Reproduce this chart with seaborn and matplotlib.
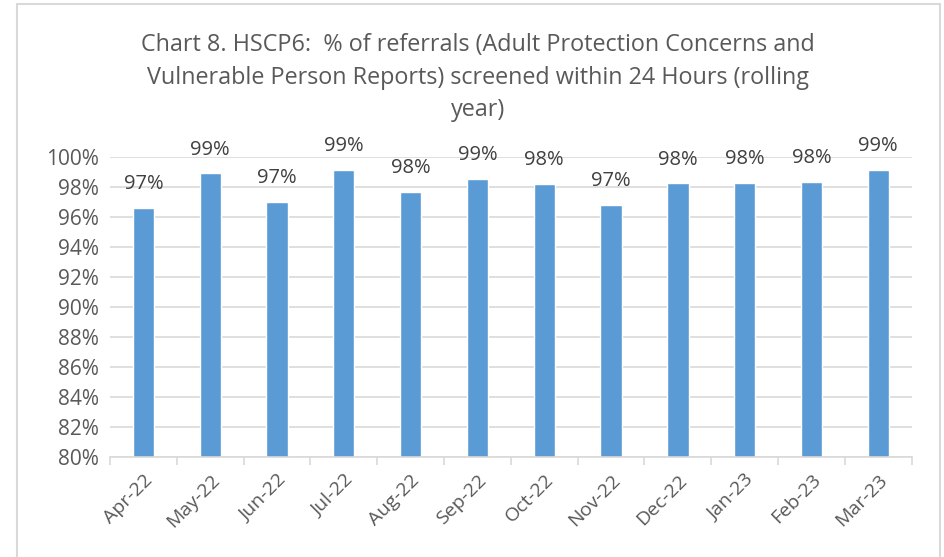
import matplotlib
matplotlib.use("Agg")
import matplotlib.pyplot as plt
import seaborn as sns
import pandas as pd
import numpy as np
from matplotlib.ticker import PercentFormatter, FixedLocator
from matplotlib.patches import Rectangle

# values
months = ["Apr-22", "May-22", "Jun-22", "Jul-22", "Aug-22", "Sep-22",
          "Oct-22", "Nov-22", "Dec-22", "Jan-23", "Feb-23", "Mar-23"]
pct_screened = [0.9658, 0.9891, 0.9702, 0.9913, 0.9769, 0.9853,
                0.9818, 0.9682, 0.9824, 0.9827, 0.9833, 0.9915]

title = ("Chart 8. HSCP6:  % of referrals (Adult Protection Concerns and\n"
         "Vulnerable Person Reports) screened within 24 Hours (rolling\n"
         "year)")

sns.set_theme(style="white")
plt.rcParams["font.family"] = ["Open Sans", "DejaVu Sans"]

df = pd.DataFrame({"month": months, "pct": pct_screened})

fig = plt.figure(figsize=(9.45, 5.57), dpi=100)
ax = fig.add_axes([0.1164, 0.1795, 0.8483, 0.5385])

sns.barplot(data=df, x="month", y="pct", color="#5B9BD5", saturation=1,
            width=0.32, ax=ax)

ax.set_ylim(0.80, 1.00)
ax.set_xlim(-0.5, len(months) - 0.5)
ax.set_yticks(np.arange(0.80, 1.001, 0.02))
ax.yaxis.set_major_formatter(PercentFormatter(1, decimals=0))
ax.grid(axis="y", color="#D9D9D9", linewidth=1.2)
ax.set_axisbelow(True)

for s in ["top", "right", "left"]:
    ax.spines[s].set_visible(False)
ax.spines["bottom"].set_color("#D9D9D9")
ax.spines["bottom"].set_linewidth(1.2)

ax.set_xlabel("")
ax.set_ylabel("")
ax.tick_params(axis="y", length=0, labelsize=15, labelcolor="#595959", pad=8)
ax.tick_params(axis="x", which="major", length=0, labelsize=14,
               labelcolor="#595959", pad=10)
plt.setp(ax.get_xticklabels(), rotation=45, ha="right",
         rotation_mode="anchor")
ax.xaxis.set_minor_locator(FixedLocator(np.arange(-0.5, len(months), 1)))
ax.tick_params(axis="x", which="minor", length=6, width=1.2,
               color="#D9D9D9", bottom=True)

ax.bar_label(ax.containers[0],
             labels=[f"{v * 100:.0f}%" for v in pct_screened],
             padding=10, fontsize=14.5, color="#404040")

fig.text(0.506, 0.94, title, ha="center", va="top", fontsize=16.8,
         color="#595959", linespacing=1.45)

fig.patches.append(Rectangle((0.018, -0.01), 0.977, 1.003,
                             transform=fig.transFigure, fill=False,
                             edgecolor="#D9D9D9", linewidth=1.5))

fig.savefig("out.png", dpi=100)
